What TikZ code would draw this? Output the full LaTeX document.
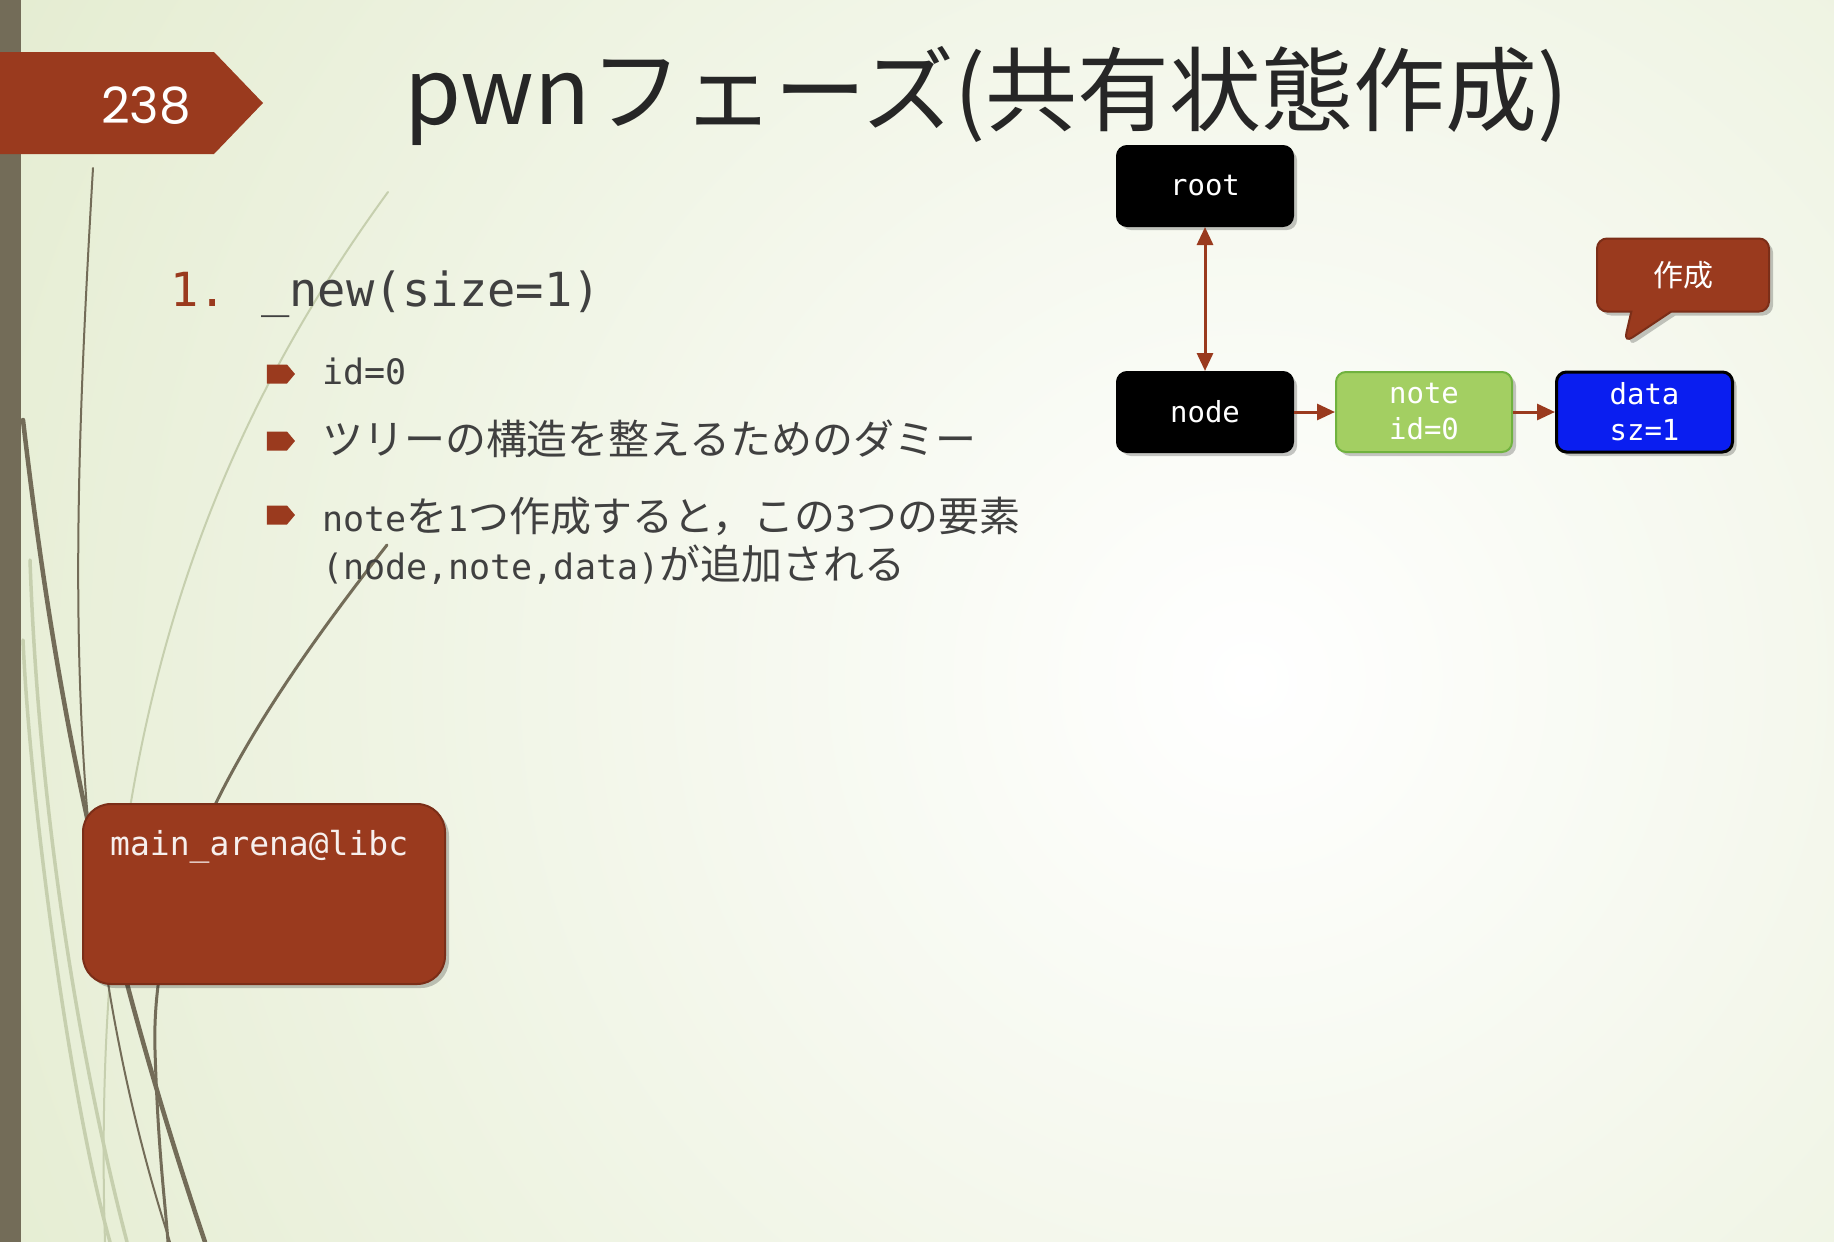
\documentclass[tikz,border=0pt]{standalone}
\usepackage{fontspec}
\setmainfont{DejaVu Sans Mono}
\newfontfamily\cjk{Noto Sans CJK JP}
\newfontfamily\cjkbody{Noto Sans CJK JP}[Scale=1.17]
\newfontfamily\numfont{Poppins}
\usepackage{xcolor}
\usepackage{tikz}
\usetikzlibrary{positioning,arrows.meta,calc,shadows,shapes.symbols,shapes.callouts}

\definecolor{rust}{HTML}{9A3A1E}
\definecolor{olive}{HTML}{736C58}
\definecolor{bggreen}{HTML}{DAE5BF}
\definecolor{leaf}{HTML}{A3CF62}
\definecolor{leafline}{HTML}{70B23F}
\definecolor{deepblue}{HTML}{0A1EF0}
\definecolor{ink}{HTML}{404040}
\definecolor{titleink}{HTML}{262626}
\definecolor{palestroke}{HTML}{C6CFAE}

\begin{document}
\begin{tikzpicture}[
  x=1pt, y=-1pt,
  softshadow/.style={drop shadow={shadow xshift=4pt, shadow yshift=-4pt, fill=black, opacity=0.22}},
  blackbox/.style={draw=black, fill=black, line width=2pt, rounded corners=10pt, align=center,
    minimum width=176pt, minimum height=80pt, text=white, font=\fontsize{29}{36}\selectfont, softshadow},
  greenbox/.style={blackbox, draw=leafline, fill=leaf},
  bluebox/.style={blackbox, draw=black, line width=3pt, fill=deepblue},
  tagbubble/.style={rectangle callout, callout pointer width=40pt, draw=rust!80!black, fill=rust,
    line width=2pt, rounded corners=10pt, minimum width=172pt, minimum height=73pt, text=white,
    font=\cjk\fontsize{30}{36}\selectfont, softshadow},
  arena/.style={draw=rust!80!black, fill=rust, line width=2pt, rounded corners=28pt,
    minimum width=362pt, minimum height=180pt, softshadow},
  link/.style={draw=rust, line width=3pt},
  pointy/.tip={Triangle[length=18pt, width=16pt]},
  item/.style={anchor=base west, inner sep=0pt, text=ink, font=\fontsize{35}{44}\selectfont},
  bulletmark/.style={signal, signal to=east, signal pointer angle=100, fill=rust, draw=none,
    minimum width=28pt, minimum height=19pt, inner sep=0pt},
  stem/.style={draw=olive, line cap=round},
  palestem/.style={draw=palestroke, line cap=round}
]
  % background
  \useasboundingbox (0,0) rectangle (1834,1242);
  \fill[bggreen] (0,0) rectangle (1834,1242);
  \begin{scope}
    \clip (0,0) rectangle (1834,1242);
    \shade[inner color=white, outer color=bggreen] (1250,680) circle (2000);
    % grass strokes
    \draw[palestem, line width=2pt] (388,192) .. controls (200,450) and (90,750) .. (105,1242);
    \draw[palestem, line width=3.5pt] (23,640) .. controls (30,800) and (70,1100) .. (110,1242);
    \draw[palestem, line width=3.5pt] (30,560) .. controls (40,850) and (90,1100) .. (127,1242);
    \draw[stem, line width=2pt] (93,168) .. controls (70,560) and (60,900) .. (170,1242);
    \draw[stem, line width=4.5pt] (23,420) .. controls (50,650) and (90,900) .. (205,1242);
    \draw[stem, line width=3pt] (387,545) .. controls (250,720) and (150,880) .. (155,1050)
      .. controls (158,1150) and (165,1200) .. (168,1242);
  \end{scope}
  \fill[olive] (0,0) rectangle (21,1242);

  % page tag and title
  \fill[rust] (0,52) -- (214,52) -- (263,103) -- (214,154) -- (0,154) -- cycle;
  \node[text=white, font=\numfont\fontsize{50}{50}\selectfont, inner sep=0pt] (pagenum) at (146,106) {238};
  \node[anchor=base west, inner sep=0pt, text=titleink, font=\cjk\fontsize{92}{100}\selectfont]
    (title) at (404,124) {pwnフェーズ(共有状態作成)};

  % list
  \node[item, text=rust, font=\fontsize{47}{50}\selectfont] (num) at (170,306) {1.};
  \node[item, font=\fontsize{47}{50}\selectfont] (call) at (261,306) {\_new(size=1)};
  \node[bulletmark] (b1) at (277,374) {};
  \node[item] (t1) at (322,384) {id=0};
  \node[bulletmark] (b2) at (277,441) {};
  \node[item] (t2) at (322,454) {\cjkbody ツリーの構造を整えるためのダミー};
  \node[bulletmark] (b3) at (277,515) {};
  \node[item] (t3) at (322,531) {note{\cjkbody を}1{\cjkbody つ作成すると，この}3{\cjkbody つの要素}};
  \node[item] (t3b) at (322,579) {(node,note,data){\cjkbody が追加される}};

  % structures
  \node[blackbox] (root) at (1205,186) {root};
  \node[blackbox, below=144pt of root] (node) {node};
  \node[greenbox, right=41pt of node] (note) {note\\id=0};
  \node[bluebox, right=42pt of note] (data) {data\\sz=1};
  \node[tagbubble, callout absolute pointer={(1624,343)}] (made) at (1683,275) {作成};

  \draw[link, pointy-pointy] (root) -- (node);
  \draw[link, -pointy] (node) -- (note);
  \draw[link, -pointy] (note) -- (data);

  \node[arena] (arena) at (264,894) {};
  \node[anchor=base west, inner sep=0pt, text=white!92!rust, font=\fontsize{33}{36}\selectfont]
    (arenalabel) at ($(arena.north west)+(28,52)$) {main\_arena@libc};
\end{tikzpicture}
\end{document}
